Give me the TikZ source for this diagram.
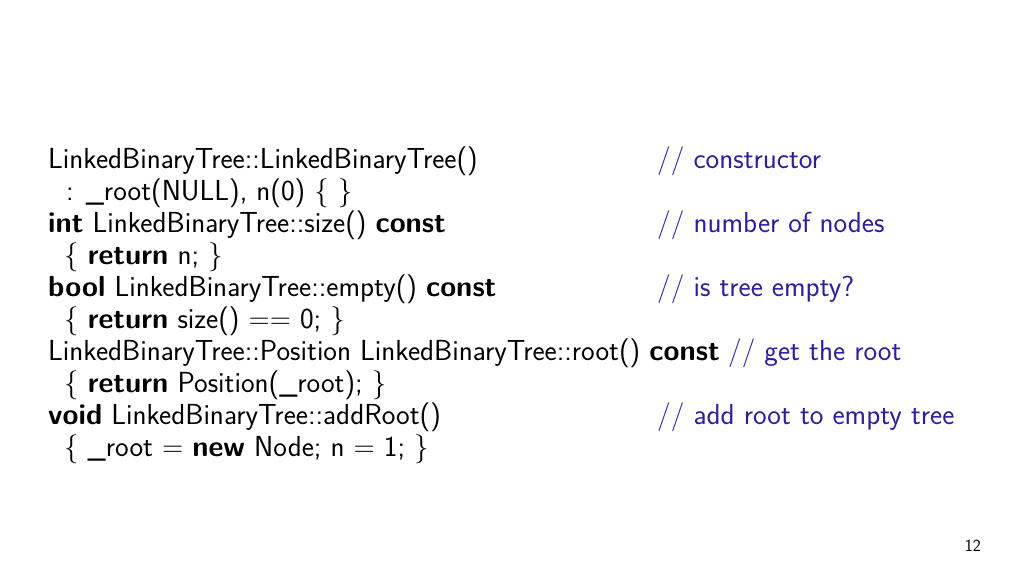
\documentclass[tikz,border=0pt]{standalone}
\begin{document}
\begin{tikzpicture}[x=1pt,y=-1pt,
  code/.style={anchor=base west,inner sep=0pt,font=\sffamily\fontsize{29}{32}\selectfont},
  cmt/.style={code,text={rgb,255:red,45;green,30;blue,160}}]
\useasboundingbox (0,0) rectangle (1024,576);
\node[code] (l1) at (48,168) {LinkedBinaryTree::LinkedBinaryTree()};
\node[code] (l2) at (66,200) {: \_root(NULL), n(0) \{ \}};
\node[code] (l3) at (48,232) {\textbf{int} LinkedBinaryTree::size() \textbf{const}};
\node[code] (l4) at (64,264) {\{ \textbf{return} n; \}};
\node[code] (l5) at (48,296) {\textbf{bool} LinkedBinaryTree::empty() \textbf{const}};
\node[code] (l6) at (64,328) {\{ \textbf{return} size() == 0; \}};
\node[code] (l7) at (48,360) {LinkedBinaryTree::Position LinkedBinaryTree::root() \textbf{const}};
\node[code] (l8) at (64,392) {\{ \textbf{return} Position(\_root); \}};
\node[code] (l9) at (48,424) {\textbf{void} LinkedBinaryTree::addRoot()};
\node[code] (l10) at (64,456) {\{ \_root = \textbf{new} Node; n = 1; \}};
\node[cmt] (c1) at (657,168) {// constructor};
\node[cmt] (c3) at (657,232) {// number of nodes};
\node[cmt] (c5) at (657,296) {// is tree empty?};
\node[cmt] (c7) at (l7.base east) [xshift=8pt] {// get the root};
\node[cmt] (c9) at (657,424) {// add root to empty tree};
\node[anchor=base east,inner sep=0pt,font=\sffamily\fontsize{17}{20}\selectfont] (pg) at (981,551) {12};
\end{tikzpicture}
\end{document}
